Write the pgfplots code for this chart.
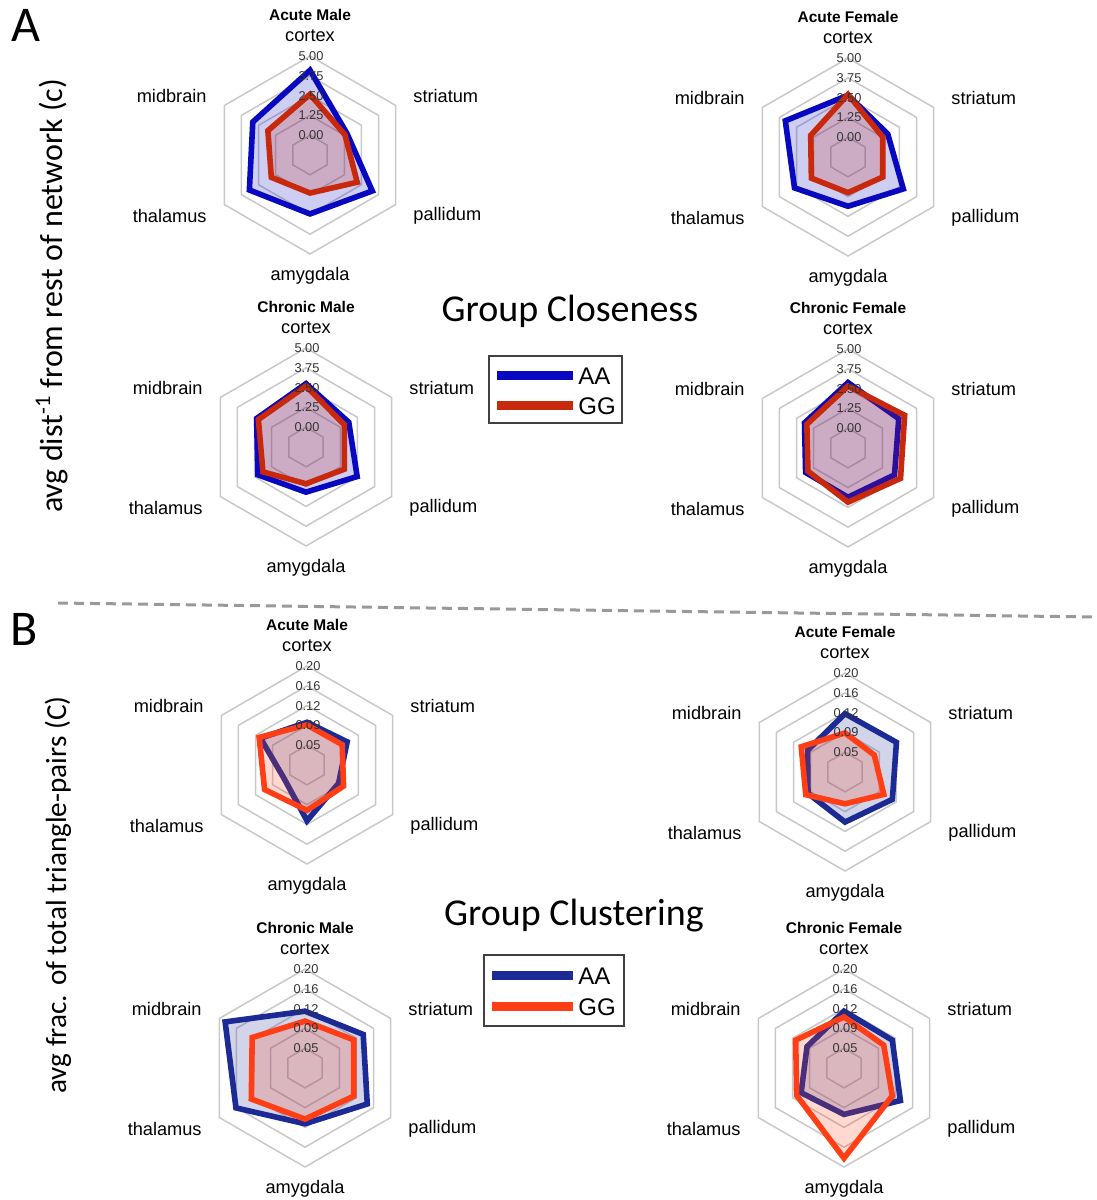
\documentclass[border=0pt]{standalone}
\usepackage{fontspec}
\setmainfont{Liberation Sans}
\newfontfamily\calib{Carlito}
\usepackage{pgfplots}
\pgfplotsset{compat=1.18}
\usepgfplotslibrary{polar}

\definecolor{cA}{RGB}{8,8,192}
\definecolor{cG}{RGB}{200,40,12}
\definecolor{kA}{RGB}{28,42,150}
\definecolor{kG}{RGB}{255,62,22}
\definecolor{gridc}{RGB}{200,200,200}

\pgfplotsset{
 radbase/.style={hide axis, scale only axis, width=99pt, height=99pt, xmin=0, xmax=360, ymin=0, clip=false, anchor=center},
 radC/.style={radbase, ymax=6.25, y filter/.expression={y+1.25}},
 radK/.style={radbase, ymax=0.19, y filter/.expression={y-0.01}},
 ring/.style={draw=gridc, line width=0.75pt, mark=none},
 ser/.style={line width=2.8pt, mark=none, draw=#1, fill=#1, fill opacity=0.2, line join=miter},
}

\newcommand{\ringsC}{%
 \addplot[ring] coordinates {(90,0)(30,0)(330,0)(270,0)(210,0)(150,0)} -- cycle;
 \addplot[ring] coordinates {(90,1.25)(30,1.25)(330,1.25)(270,1.25)(210,1.25)(150,1.25)} -- cycle;
 \addplot[ring] coordinates {(90,2.5)(30,2.5)(330,2.5)(270,2.5)(210,2.5)(150,2.5)} -- cycle;
 \addplot[ring] coordinates {(90,3.75)(30,3.75)(330,3.75)(270,3.75)(210,3.75)(150,3.75)} -- cycle;
 \addplot[ring] coordinates {(90,5)(30,5)(330,5)(270,5)(210,5)(150,5)} -- cycle;
}
\newcommand{\ringsK}{%
 \addplot[ring] coordinates {(90,0.048)(30,0.048)(330,0.048)(270,0.048)(210,0.048)(150,0.048)} -- cycle;
 \addplot[ring] coordinates {(90,0.086)(30,0.086)(330,0.086)(270,0.086)(210,0.086)(150,0.086)} -- cycle;
 \addplot[ring] coordinates {(90,0.124)(30,0.124)(330,0.124)(270,0.124)(210,0.124)(150,0.124)} -- cycle;
 \addplot[ring] coordinates {(90,0.162)(30,0.162)(330,0.162)(270,0.162)(210,0.162)(150,0.162)} -- cycle;
 \addplot[ring] coordinates {(90,0.2)(30,0.2)(330,0.2)(270,0.2)(210,0.2)(150,0.2)} -- cycle;
}

\tikzset{
 sp/.style={font=\fontsize{9.1}{10}\selectfont, inner sep=0pt},
 ttl/.style={font=\fontsize{7.75}{9}\selectfont\bfseries, inner sep=0pt},
 tk/.style={font=\fontsize{6.4}{7}\selectfont, text=black!80, inner sep=0pt},
 lg/.style={font=\fontsize{12}{14}\selectfont, inner sep=0pt},
}
\newcommand{\spokes}[3]{%
 \node[ttl] at (#1,#2-140) {#3};
 \node[sp] at (#1,#2-119) {cortex};
 \node[sp,anchor=east] at (#1-103,#2-59) {midbrain};
 \node[sp,anchor=west] at (#1+103,#2-59) {striatum};
 \node[sp,anchor=east] at (#1-103,#2+61) {thalamus};
 \node[sp,anchor=west] at (#1+103,#2+61) {pallidum};
 \node[sp] at (#1,#2+121) {amygdala};
}
\newcommand{\ticksC}[2]{%
 \node[tk] at (#1+1,#2-19.8) {0.00};
 \node[tk] at (#1+1,#2-39.6) {1.25};
 \node[tk] at (#1+1,#2-59.4) {2.50};
 \node[tk] at (#1+1,#2-79.2) {3.75};
 \node[tk] at (#1+1,#2-99) {5.00};
}
\newcommand{\ticksK}[2]{%
 \node[tk] at (#1+1,#2-19.8) {0.05};
 \node[tk] at (#1+1,#2-39.6) {0.09};
 \node[tk] at (#1+1,#2-59.4) {0.12};
 \node[tk] at (#1+1,#2-79.2) {0.16};
 \node[tk] at (#1+1,#2-99) {0.20};
}

\begin{document}
\begin{tikzpicture}[x=0.5pt,y=-0.5pt]
\path (0,0) rectangle (1095,1200);

% ---------- A: closeness ----------
\begin{polaraxis}[radC, at={(155pt,-77.5pt)}]
\ringsC
\addplot[ser=cA] coordinates {(90,4.10)(30,1.45)(330,3.29)(270,2.47)(210,3.17)(150,2.92)} -- cycle;
\addplot[ser=cG] coordinates {(90,2.58)(30,1.30)(330,2.19)(270,1.15)(210,1.57)(150,1.82)} -- cycle;
\end{polaraxis}
\begin{polaraxis}[radC, at={(424pt,-78.5pt)}]
\ringsC
\addplot[ser=cA] coordinates {(90,2.65)(30,1.65)(330,2.78)(270,1.86)(210,2.65)(150,3.32)} -- cycle;
\addplot[ser=cG] coordinates {(90,2.70)(30,1.28)(330,1.28)(270,1.00)(210,1.42)(150,1.47)} -- cycle;
\end{polaraxis}
\begin{polaraxis}[radC, at={(153pt,-223.5pt)}]
\ringsC
\addplot[ser=cA] coordinates {(90,2.75)(30,1.87)(330,2.48)(270,1.60)(210,2.26)(150,2.35)} -- cycle;
\addplot[ser=cG] coordinates {(90,2.60)(30,1.55)(330,1.55)(270,1.07)(210,1.89)(150,2.22)} -- cycle;
\end{polaraxis}
\begin{polaraxis}[radC, at={(424pt,-224pt)}]
\ringsC
\addplot[ser=cA] coordinates {(90,2.88)(30,2.45)(330,2.14)(270,1.86)(210,1.84)(150,1.92)} -- cycle;
\addplot[ser=cG] coordinates {(90,2.66)(30,2.88)(330,2.58)(270,2.17)(210,1.67)(150,1.75)} -- cycle;
\end{polaraxis}

% ---------- B: clustering ----------
\begin{polaraxis}[radK, at={(153.5pt,-382.5pt)}]
\ringsK
\addplot[ser=kA] coordinates {(90,0.092)(30,0.099)(330,0.080)(270,0.117)(210,0.061)(150,0.113)} -- cycle;
\addplot[ser=kG] coordinates {(90,0.087)(30,0.088)(330,0.091)(270,0.097)(210,0.104)(150,0.116)} -- cycle;
\end{polaraxis}
\begin{polaraxis}[radK, at={(422.5pt,-386pt)}]
\ringsK
\addplot[ser=kA] coordinates {(90,0.122)(30,0.124)(330,0.115)(270,0.106)(210,0.092)(150,0.093)} -- cycle;
\addplot[ser=kG] coordinates {(90,0.085)(30,0.075)(330,0.096)(270,0.071)(210,0.097)(150,0.107)} -- cycle;
\end{polaraxis}
\begin{polaraxis}[radK, at={(152.5pt,-534pt)}]
\ringsK
\addplot[ser=kA] coordinates {(90,0.119)(30,0.139)(330,0.148)(270,0.117)(210,0.163)(150,0.187)} -- cycle;
\addplot[ser=kG] coordinates {(90,0.100)(30,0.118)(330,0.118)(270,0.108)(210,0.129)(150,0.127)} -- cycle;
\end{polaraxis}
\begin{polaraxis}[radK, at={(422pt,-534pt)}]
\ringsK
\addplot[ser=kA] coordinates {(90,0.119)(30,0.117)(330,0.135)(270,0.099)(210,0.105)(150,0.092)} -- cycle;
\addplot[ser=kG] coordinates {(90,0.108)(30,0.098)(330,0.117)(270,0.183)(210,0.115)(150,0.117)} -- cycle;
\end{polaraxis}

% ---------- labels ----------
\spokes{310}{155}{Acute Male}
\spokes{848}{157}{Acute Female}
\spokes{306}{447}{Chronic Male}
\spokes{848}{448}{Chronic Female}
\spokes{307}{765}{Acute Male}
\spokes{845}{772}{Acute Female}
\spokes{305}{1068}{Chronic Male}
\spokes{844}{1068}{Chronic Female}
\ticksC{310}{155}
\ticksC{848}{157}
\ticksC{306}{447}
\ticksC{848}{448}
\ticksK{307}{765}
\ticksK{845}{772}
\ticksK{305}{1068}
\ticksK{844}{1068}

% titles
\node[font=\calib\fontsize{19}{22}\selectfont, inner sep=0pt] at (570,311) {Group Closeness};
\node[font=\calib\fontsize{19}{22}\selectfont, inner sep=0pt] at (574,916) {Group Clustering};

% legends
\draw[black!75, line width=0.6pt, fill=white] (489,356) rectangle (622,423);
\draw[cA, line width=4.5pt] (497,375) -- (573,375);
\draw[cG, line width=4.5pt] (497,405) -- (573,405);
\node[lg, anchor=west] at (578,376) {AA};
\node[lg, anchor=west] at (578,406) {GG};

\draw[black!75, line width=0.6pt, fill=white] (484,955) rectangle (624,1026);
\draw[kA, line width=4.5pt] (492,975) -- (573,975);
\draw[kG, line width=4.5pt] (492,1006) -- (573,1006);
\node[lg, anchor=west] at (578,976) {AA};
\node[lg, anchor=west] at (578,1007) {GG};

% panel letters & side labels
\node[font=\calib\fontsize{25}{28}\selectfont, inner sep=0pt] at (26,25) {A};
\node[font=\calib\fontsize{25}{28}\selectfont, inner sep=0pt] at (24,629) {B};
\node[font=\calib\fontsize{16}{18}\selectfont, rotate=90, inner sep=0pt] at (52,296) {avg dist\textsuperscript{-1} from rest of network (c)};
\node[font=\calib\fontsize{14.6}{17}\selectfont, rotate=90, inner sep=0pt] at (58,895) {avg frac. of total triangle-pairs (C)};

% divider
\draw[black!40, line width=1.5pt, dash pattern=on 5pt off 3pt] (58,603) -- (1095,617);
\end{tikzpicture}
\end{document}
